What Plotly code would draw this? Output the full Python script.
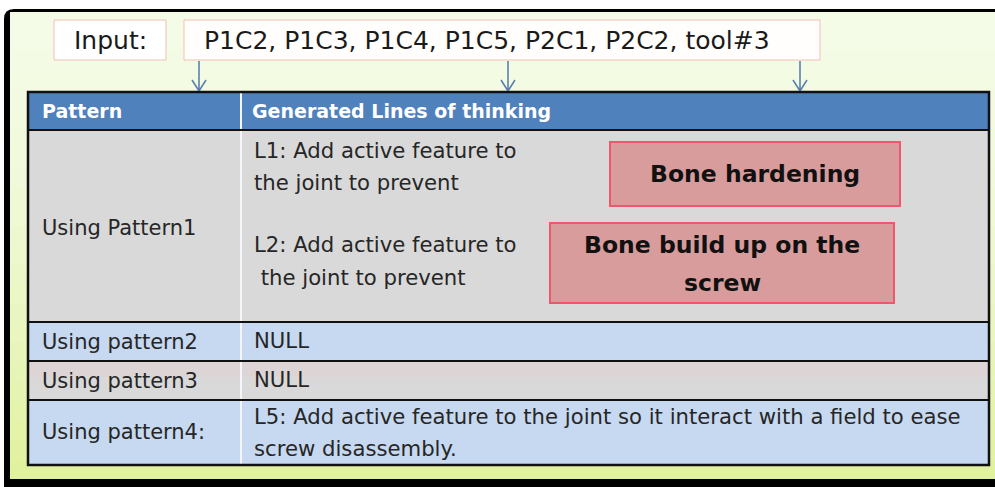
import plotly.graph_objects as go

# ---------------- content (text data) ----------------
input_label = "Input:"
input_items = ["P1C2", "P1C3", "P1C4", "P1C5", "P2C1", "P2C2", "tool#3"]
header_labels = ["Pattern", "Generated Lines of thinking"]
pattern_names = ["Using Pattern1", "Using pattern2", "Using pattern3", "Using pattern4:"]
thinking_lines = [
    ["L1: Add active feature to", "the joint to prevent",
     "L2: Add active feature to", " the joint to prevent"],
    ["NULL"],
    ["NULL"],
    ["L5: Add active feature to the joint so it interact with a field to ease",
     "screw disassembly."],
]
callout_lines = [["Bone hardening"], ["Bone build up on the", "screw"]]

# ---------------- geometry / style (pixels) ----------------
W, H = 995, 487
FONT = "DejaVu Sans"
TXT = "#262626"
tbl_x0, tbl_x1, col_x = 28, 989, 241
row_edges = [92, 130, 322, 361, 400, 465]          # header + 4 rows
row_fills = ["#4f81bd", "#d9d9d9", "#c6d9f0", "#d9d9d9", "#c6d9f0"]
pattern_y = [228, 342, 381, 432]
thinking_y = [[150, 182, 244, 277], [340], [379], [416, 448]]
callout_boxes = [(610, 142, 900, 206), (550, 223, 894, 303)]
callout_y = [[174], [245, 283]]
arrow_x = [199, 508, 800]

fig = go.Figure()
fig.add_trace(go.Scatter(x=[0], y=[0], mode="markers", marker=dict(opacity=0),
                         hoverinfo="skip"))

shapes = []
# outer frame
shapes.append(dict(type="path", layer="below",
                   path="M 4,490 L 4,19 Q 4,9 14,9 L 1000,9 L 1000,490 Z",
                   fillcolor="#000000", line=dict(width=0)))
# inner gradient background (overlapping stripes, no seams)
c0 = (244, 251, 230)
c1 = (224, 242, 158)
y_top, y_bot = 12, 479
n = 24
for i in range(n):
    t = i / (n - 1)
    col = tuple(round(c0[k] + (c1[k] - c0[k]) * t ** 1.6) for k in range(3))
    ya = y_top + (y_bot - y_top) * i / n
    yb = y_bot if i == n - 1 else y_top + (y_bot - y_top) * (i + 1) / n + 4
    shapes.append(dict(type="rect", layer="below", x0=10, x1=1000, y0=ya, y1=yb,
                       fillcolor="rgb(%d,%d,%d)" % col, line=dict(width=0)))

# input boxes
shapes.append(dict(type="rect", x0=54, x1=166, y0=20, y1=60, fillcolor="#ffffff",
                   line=dict(color="#f2bfb2", width=1)))
shapes.append(dict(type="rect", x0=184, x1=820, y0=20, y1=60, fillcolor="#fffefc",
                   line=dict(color="#f2bfb2", width=1)))
# arrows
for ax in arrow_x:
    shapes.append(dict(type="path",
                       path=f"M {ax},61 L {ax},91 M {ax-7},80 L {ax},91 L {ax+7},80",
                       line=dict(color="#5a82ad", width=1.6)))

# table rows
for i, fc in enumerate(row_fills):
    shapes.append(dict(type="rect", x0=tbl_x0, x1=tbl_x1, y0=row_edges[i],
                       y1=row_edges[i + 1], fillcolor=fc, line=dict(width=0)))
# subtle pink tint at top of row 3
shapes.append(dict(type="rect", x0=tbl_x0, x1=tbl_x1, y0=row_edges[3], y1=row_edges[3] + 16,
                   fillcolor="#ddd5d5", line=dict(width=0)))
# column divider
shapes.append(dict(type="line", x0=col_x, x1=col_x, y0=row_edges[0], y1=row_edges[-1],
                   line=dict(color="#f4f6fa", width=2)))
# row separators
for y in row_edges[1:-1]:
    shapes.append(dict(type="line", x0=tbl_x0, x1=tbl_x1, y0=y, y1=y,
                       line=dict(color="#111111", width=2)))
# table border
shapes.append(dict(type="rect", x0=tbl_x0, x1=tbl_x1, y0=row_edges[0], y1=row_edges[-1],
                   line=dict(color="#111111", width=2.5)))
# callout boxes
for (x0, y0, x1, y1) in callout_boxes:
    shapes.append(dict(type="rect", x0=x0, x1=x1, y0=y0, y1=y1, fillcolor="#d89c9c",
                       line=dict(color="#f2566c", width=2)))

anns = []


def txt(x, y, s, size, color=TXT, bold=False, xanchor="left"):
    anns.append(dict(x=x, y=y, xref="x", yref="y", text=(f"<b>{s}</b>" if bold else s),
                     showarrow=False, xanchor=xanchor, yanchor="middle",
                     font=dict(family=FONT, size=size, color=color)))


txt(110, 40, input_label, 25, color="#1a1a1a", xanchor="center")
txt(202, 40, ", ".join(input_items), 25, color="#1a1a1a")

hy = (row_edges[0] + row_edges[1]) / 2
txt(40, hy, header_labels[0], 19, color="#ffffff", bold=True)
txt(250, hy, header_labels[1], 19, color="#ffffff", bold=True)

for name, y in zip(pattern_names, pattern_y):
    txt(40, y, name, 21)
for lines, ys in zip(thinking_lines, thinking_y):
    for s, y in zip(lines, ys):
        txt(252, y, s.replace(" ", "&nbsp;", 1) if s.startswith(" ") else s, 21.2)

for (x0, y0, x1, y1), lines, ys in zip(callout_boxes, callout_lines, callout_y):
    for s, y in zip(lines, ys):
        txt((x0 + x1) / 2, y, s, 23.5, color="#111111", bold=True, xanchor="center")

fig.update_layout(
    width=W, height=H, margin=dict(l=0, r=0, t=0, b=0),
    paper_bgcolor="#ffffff", plot_bgcolor="#ffffff", showlegend=False,
    xaxis=dict(range=[0, W], visible=False, fixedrange=True),
    yaxis=dict(range=[H, 0], visible=False, fixedrange=True),
    shapes=shapes, annotations=anns,
)
fig.write_html("out.html", config={"displayModeBar": False},
               post_script="document.body.style.margin='0';document.body.style.overflow='hidden';")
